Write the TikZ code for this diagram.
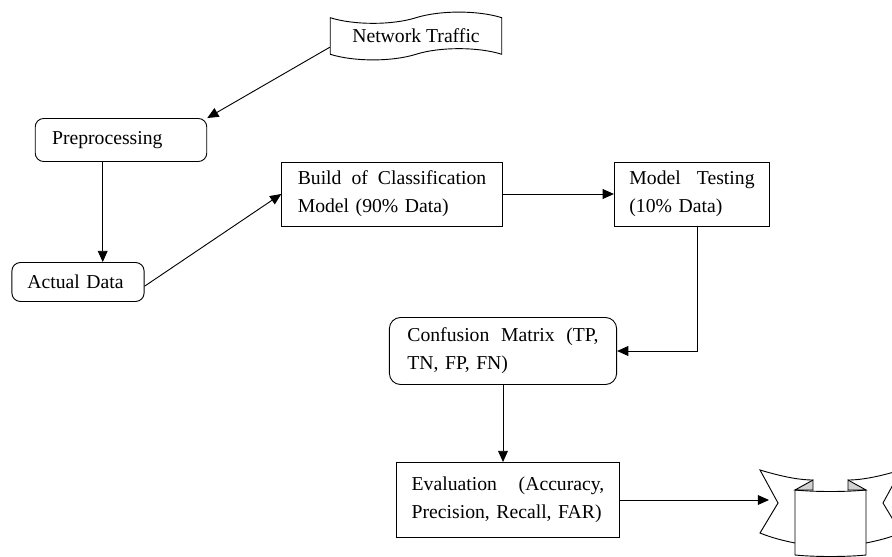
\documentclass[tikz,border=0pt]{standalone}
\usepackage{fontspec}
\setmainfont{Liberation Serif}
\usepackage{tikz}
\usetikzlibrary{shapes,shapes.symbols}
\usetikzlibrary{arrows.meta}
\usetikzlibrary{calc}
\tikzstyle{roundbox}=[draw, rounded corners=6pt, align=left, inner ysep=0pt]
\tikzstyle{plainbox}=[draw, align=left, inner ysep=0pt]
\tikzstyle{arr}=[-{Triangle[length=8pt,width=7pt]}]

\begin{document}
\begin{tikzpicture}[x=0.025cm,y=-0.025cm,line width=0.65pt,
	font=\fontsize{14pt}{20pt}\selectfont]
\useasboundingbox (0,0) rectangle (892,557);
\clip (0,0) rectangle (892,557);
% flow boxes
\node[draw, tape, tape bend height=8pt, minimum width=122pt, minimum height=34pt, inner sep=0pt] (nt) at (416,36) {Network Traffic};
\node[roundbox, text width=98pt, inner xsep=12pt, minimum height=30.6pt] (pre) at (121,140) {Preprocessing};
\node[roundbox, text width=72pt, inner xsep=11pt, minimum height=27.7pt] (act) at (78,282) {Actual Data};
\node[plainbox, text width=134pt, inner xsep=11.4pt, minimum height=45.5pt] (build) at (392,194) {Build \hfill of \hfill Classification\\Model (90\% Data)};
\node[plainbox, text width=89pt, inner xsep=10.7pt, minimum height=45.5pt] (test) at (692,194) {Model \hfill Testing\\(10\% Data)};
\node[roundbox, rounded corners=8pt, text width=136pt, inner xsep=12.8pt, minimum height=47.7pt] (conf) at (503,351) {Confusion \hfill Matrix \hfill (TP,\\TN, FP, FN)};
\node[plainbox, text width=137pt, inner xsep=10.7pt, minimum height=53.3pt] (eval) at (508,500) {Evaluation \hfill (Accuracy,\\Precision, Recall, FAR)};
% curved ribbon
\coordinate (rib) at (769,498);
\filldraw[fill=gray!35] (795,490) -- (813,480) -- (813,490) -- cycle;
\filldraw[fill=gray!35] (866,490) -- (848,480) -- (848,490) -- cycle;
\draw (813,480) .. controls (798,480) and (780,476) .. (760,470) -- (778,503) -- (760,533)
	.. controls (772,538) and (785,541) .. (795,543);
\draw (848,480) .. controls (863,480) and (881,476) .. (901,470) -- (883,503) -- (901,533)
	.. controls (889,538) and (876,541) .. (866,543);
\draw (795,490) .. controls (815,492) and (846,492) .. (866,490) -- (866,555)
	.. controls (846,557) and (815,557) .. (795,555) -- cycle;
% connectors
\draw[arr] ([yshift=-8pt]nt.west) -- (pre.north east);
\draw[arr] ([xshift=-13pt]pre.south) -- ([xshift=-13pt]pre.south |- act.north);
\draw[arr] ([yshift=-3pt]act.east) -- (build.west);
\draw[arr] (build.east) -- (test.west);
\draw[arr] ([xshift=4pt]test.south) |- (conf.east);
\draw[arr] (conf.south) -- (conf.south |- eval.north);
\draw[arr] (eval.east) -- (eval.east -| rib);
\end{tikzpicture}
\end{document}
